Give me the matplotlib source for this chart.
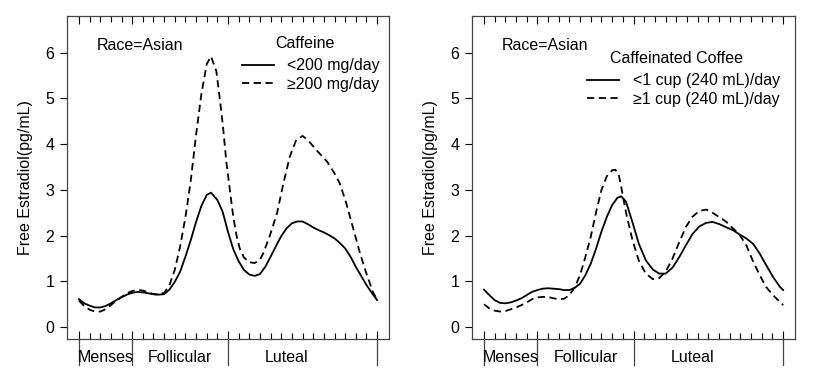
import numpy as np
import matplotlib
matplotlib.use('Agg')
import matplotlib.pyplot as plt

plt.rcParams['font.family'] = ['Liberation Sans', 'DejaVu Sans']
plt.rcParams['font.size'] = 11.5

# panel izquierdo: cafeina (dia del ciclo, estradiol libre)
caf_low_x = [0, 0.5, 1, 1.5, 2, 2.5, 3, 3.5, 4, 4.5, 5, 5.5, 6, 6.5, 7, 7.5, 8, 8.5, 9, 9.5,
             10, 10.5, 11, 11.5, 12, 12.4, 13, 13.5, 14, 14.5, 15, 15.5, 16, 16.5, 17, 17.5,
             18, 18.5, 19, 19.5, 20, 20.5, 21, 21.5, 22, 22.5, 23, 23.5, 24, 24.5, 25, 25.5,
             26, 26.5, 27, 27.5, 28]
caf_low_y = [0.61, 0.52, 0.47, 0.43, 0.43, 0.46, 0.52, 0.59, 0.65, 0.71, 0.75, 0.77, 0.76,
             0.74, 0.72, 0.71, 0.72, 0.82, 0.99, 1.21, 1.54, 1.90, 2.30, 2.65, 2.89, 2.94,
             2.78, 2.52, 2.08, 1.70, 1.44, 1.25, 1.15, 1.12, 1.16, 1.32, 1.54, 1.77, 1.99,
             2.16, 2.27, 2.31, 2.31, 2.25, 2.18, 2.12, 2.07, 2.01, 1.94, 1.84, 1.72, 1.54,
             1.32, 1.12, 0.92, 0.75, 0.59]
caf_high_x = [0, 0.5, 1, 1.5, 2, 2.5, 3, 3.5, 4, 4.5, 5, 5.5, 6, 6.5, 7, 7.5, 8, 8.5, 9, 9.5,
              10, 10.5, 11, 11.5, 12, 12.4, 12.9, 13.2, 13.5, 13.85, 14.2, 14.5, 14.8, 15.1,
              15.5, 16, 16.5, 17, 17.3, 17.9, 18.6, 19.2, 19.8, 20.4, 21, 21.5, 22.3, 23.3,
              24, 24.5, 25.1, 25.8, 26.4, 27, 27.6, 28]
caf_high_y = [0.58, 0.46, 0.38, 0.34, 0.34, 0.39, 0.48, 0.58, 0.66, 0.74, 0.79, 0.81, 0.80,
              0.76, 0.72, 0.71, 0.75, 0.92, 1.25, 1.76, 2.40, 3.20, 4.20, 5.10, 5.75, 5.92,
              5.60, 5.05, 4.45, 3.60, 2.95, 2.40, 2.00, 1.72, 1.52, 1.42, 1.40, 1.47, 1.61,
              1.98, 2.49, 3.14, 3.73, 4.09, 4.18, 4.09, 3.87, 3.62, 3.36, 3.14, 2.71, 2.12,
              1.61, 1.17, 0.77, 0.60]

# panel derecho: cafe con cafeina
cof_low_x = [0, 0.5, 1, 1.5, 2, 2.5, 3, 3.5, 4, 4.5, 5, 5.5, 6, 6.5, 7, 7.5, 8, 8.5, 9, 9.5,
             10, 10.5, 11, 11.5, 12, 12.5, 12.85, 13.3, 13.9, 14.5, 15.15, 15.8, 16.4, 17,
             17.65, 18.3, 18.9, 19.5, 20.15, 20.8, 21.4, 22.05, 22.7, 23.3, 23.9, 24.55, 25.2,
             25.8, 26.4, 27.05, 27.7, 28]
cof_low_y = [0.82, 0.70, 0.59, 0.53, 0.52, 0.54, 0.58, 0.63, 0.70, 0.77, 0.81, 0.84, 0.85,
             0.84, 0.83, 0.81, 0.81, 0.86, 0.95, 1.14, 1.39, 1.72, 2.09, 2.41, 2.67, 2.83,
             2.86, 2.74, 2.29, 1.82, 1.46, 1.26, 1.17, 1.17, 1.30, 1.54, 1.79, 2.03, 2.20,
             2.28, 2.30, 2.25, 2.18, 2.12, 2.03, 1.94, 1.82, 1.61, 1.36, 1.10, 0.88, 0.81]
cof_high_x = [0, 0.5, 1, 1.5, 2, 2.5, 3, 3.5, 4, 4.5, 5, 5.5, 6, 6.5, 7, 7.5, 8, 8.5, 9, 9.5,
              10, 10.5, 11, 11.5, 12, 12.3, 12.6, 12.9, 13.3, 13.9, 14.5, 15.15, 15.8, 16.4,
              17, 17.65, 18.3, 18.9, 19.5, 20.15, 20.8, 21.4, 22.05, 22.7, 23.3, 23.9, 24.55,
              25.2, 25.8, 26.4, 27.05, 28]
cof_high_y = [0.50, 0.41, 0.36, 0.34, 0.35, 0.39, 0.43, 0.48, 0.54, 0.61, 0.65, 0.66, 0.66,
              0.63, 0.61, 0.62, 0.70, 0.87, 1.14, 1.54, 1.98, 2.52, 3.00, 3.30, 3.43, 3.44,
              3.35, 3.00, 2.50, 1.90, 1.45, 1.17, 1.05, 1.07, 1.21, 1.50, 1.87, 2.19, 2.41,
              2.54, 2.57, 2.50, 2.40, 2.30, 2.16, 2.03, 1.79, 1.43, 1.14, 0.88, 0.70, 0.48]

fases = ['Menses', 'Follicular', 'Luteal']
fase_centro = [2.5, 9.5, 19.5]
limites = [0, 5, 14, 28]
dias = np.arange(0, 29)

dash = (0, (4, 2.5))

fig = plt.figure(figsize=(8.18, 3.75), dpi=100)
ax1 = fig.add_axes([0.0819, 0.096, 0.3937, 0.861])
ax2 = fig.add_axes([0.577, 0.096, 0.395, 0.861])

paneles = [
    (ax1, caf_low_x, caf_low_y, caf_high_x, caf_high_y, 'Caffeine',
     ['<200 mg/day', '\u2265200 mg/day'], 0.739, 0.916, 0.543, 0.87),
    (ax2, cof_low_x, cof_low_y, cof_high_x, cof_high_y, 'Caffeinated Coffee',
     ['<1 cup (240 mL)/day', '\u22651 cup (240 mL)/day'], 0.632, 0.87, 0.356, 0.823),
]

for ax, lx, ly, hx, hy, titulo, etiquetas, tx, ty, lgx, lgy in paneles:
    ax.plot(lx, ly, color='black', lw=1.3, label=etiquetas[0])
    ax.plot(hx, hy, color='black', lw=1.3, linestyle=dash, label=etiquetas[1])
    ax.set_xlim(-1.12, 29.12)
    ax.set_ylim(-0.26, 6.8)
    ax.set_yticks(range(0, 7))
    ax.tick_params(axis='y', direction='out', length=5, width=0.8, pad=4)
    ax.set_xticks(limites)
    ax.set_xticks(dias, minor=True)
    ax.set_xticklabels([])
    ax.tick_params(axis='x', which='both', direction='in', top=True, bottom=True, width=0.8)
    ax.tick_params(axis='x', which='major', length=6)
    ax.tick_params(axis='x', which='minor', length=4)
    for s in ax.spines.values():
        s.set_color('#444444')
        s.set_linewidth(0.9)
    ax.set_ylabel('Free Estradiol(pg/mL)', labelpad=9)
    # lineas de las fases bajo el eje
    for b in limites:
        ax.axvline(b, ymin=-0.08, ymax=0, clip_on=False, color='#444444', lw=0.9)
    for nombre, c in zip(fases, fase_centro):
        ax.text(c, -0.056, nombre, transform=ax.get_xaxis_transform(),
                ha='center', va='center')
    ax.text(0.093, 0.91, 'Race=Asian', transform=ax.transAxes, ha='left', va='center')
    ax.text(tx, ty, titulo, transform=ax.transAxes, ha='center', va='center')
    ax.legend(loc='upper left', bbox_to_anchor=(lgx, lgy), frameon=False, borderpad=0,
              borderaxespad=0, handlelength=2.0, handletextpad=0.85, labelspacing=0.22)

fig.savefig('out.png', dpi=100)
